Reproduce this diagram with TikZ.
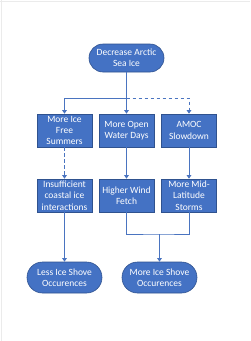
\documentclass[tikz,border=0pt]{standalone}
\usepackage{fontspec}
\setmainfont{Carlito}
\usetikzlibrary{arrows.meta}
\definecolor{boxblue}{HTML}{4472C4}
\definecolor{edgeblue}{HTML}{2F528F}
\definecolor{lineblue}{HTML}{4A74C0}
\begin{document}
\begin{tikzpicture}[x=1pt,y=-1pt,
  base/.style={fill=boxblue,draw=edgeblue,line width=0.6pt,text=white,align=center,
    font=\fontsize{9.5}{11.3}\selectfont,inner sep=1pt},
  pill/.style={base,rounded corners=14pt,minimum width=75pt,minimum height=28pt},
  pillb/.style={base,rounded corners=15.5pt,minimum width=75pt,minimum height=31pt},
  stepbox/.style={base,minimum width=55pt,minimum height=33pt},
  conn/.style={draw=lineblue,line width=0.9pt},
  arr/.style={conn,-{Triangle[width=4.5pt,length=3.5pt]}},
  dsh/.style={dash pattern=on 3.5pt off 2.5pt}]
\useasboundingbox (0,0) rectangle (250,341);
\fill[white] (0,0) rectangle (250,341);
\draw[black!8,line width=0.6pt] (0,1) -- (250,1);
\draw[black!8,line width=0.6pt] (1,0) -- (1,341);

\node[pill] (top) at (126.5,58) {Decrease Arctic\\Sea Ice};

\node[stepbox] (b1) at (64.5,130.5) {More Ice\\Free\\Summers};
\node[stepbox] (b2) at (126.5,130.5) {More Open\\Water Days};
\node[stepbox] (b3) at (189,130.5) {AMOC\\Slowdown};

\node[stepbox] (c1) at (64.5,195.5) {Insufficient\\coastal ice\\interactions};
\node[stepbox] (c2) at (126.5,195.5) {Higher Wind\\Fetch};
\node[stepbox] (c3) at (189,195.5) {More Mid-\\Latitude\\Storms};

\node[pillb] (d1) at (64.5,277.5) {Less Ice Shove\\Occurences};
\node[pillb] (d2) at (159.5,277.5) {More Ice Shove\\Occurences};

\coordinate (j1) at (126.5,98);
\coordinate (j2) at (159.5,234);

\draw[conn] (top.south) -- (j1);
\draw[arr] (j1) -| (b1.north);
\draw[arr] (j1) -- (b2.north);
\draw[arr,dsh] (j1) -| (b3.north);

\draw[arr,dsh] (b1.south) -- (c1.north);
\draw[arr] (b2.south) -- (c2.north);
\draw[arr] (b3.south) -- (c3.north);

\draw[arr] (c1.south) -- (d1.north);
\draw[conn] (c2.south) |- (j2) -| (c3.south);
\draw[arr] (j2) -- (d2.north);
\end{tikzpicture}
\end{document}
